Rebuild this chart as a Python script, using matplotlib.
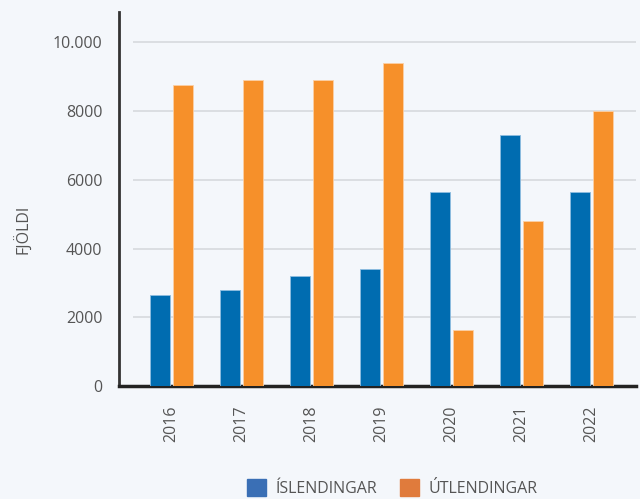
import numpy as np
import matplotlib.pyplot as plt
from matplotlib.patches import Patch

years = ["2016", "2017", "2018", "2019", "2020", "2021", "2022"]
islendingar = [2650, 2800, 3200, 3400, 5650, 7300, 5650]
utlendingar = [8750, 8900, 8900, 9400, 1620, 4800, 8000]
ytick_vals = [0, 2000, 4000, 6000, 8000, 10000]
ytick_labels = ["0", "2000", "4000", "6000", "8000", "10.000"]

bg = "#f4f7fb"
blue = "#006cb0"
orange = "#f6902a"
txt = "#555555"

plt.rcParams['font.family'] = ['Open Sans', 'DejaVu Sans']

fig = plt.figure(figsize=(6.4, 4.99), dpi=100, facecolor=bg)
ax = fig.add_axes([0.186, 0.226, 0.808, 0.75], facecolor=bg)

x = np.arange(len(years))
w = 0.29
off = 0.165
ax.bar(x - off, islendingar, w, color=blue, edgecolor="#8fbde0", linewidth=0.6, zorder=3)
ax.bar(x + off, utlendingar, w, color=orange, edgecolor="#fbd0a6", linewidth=0.6, zorder=3)

ax.set_xlim(-0.75, 6.64)
ax.set_ylim(0, 10870)

for v in ytick_vals[1:]:
    ax.hlines(v, -0.55, 6.64, color="#d6d9dd", lw=1.2, zorder=1)

ax.set_yticks(ytick_vals)
ax.set_yticklabels(ytick_labels)
ax.set_xticks(x)
ax.set_xticklabels(years, rotation=90)
ax.tick_params(axis='y', length=0, pad=12, labelsize=11.5, labelcolor=txt)
ax.tick_params(axis='x', length=0, pad=14, labelsize=11.5, labelcolor=txt)

for s in ["top", "right"]:
    ax.spines[s].set_visible(False)
ax.spines["left"].set_color("#333333")
ax.spines["left"].set_linewidth(2)
ax.spines["bottom"].set_color("#222222")
ax.spines["bottom"].set_linewidth(2.5)

fig.text(0.036, 0.54, "FJÖLDI", rotation=90, ha="center", va="center",
         fontsize=11.5, color=txt)

handles = [Patch(color="#3a6fb5"), Patch(color="#e07b3c")]
fig.legend(handles, ["ÍSLENDINGAR", "ÚTLENDINGAR"], loc="center",
           bbox_to_anchor=(0.613, 0.022), ncol=2, frameon=False,
           fontsize=11.5, labelcolor=txt, handlelength=1.2, handleheight=1.2,
           columnspacing=1.4, handletextpad=0.6)

fig.savefig("out.png", dpi=100, facecolor=bg)
